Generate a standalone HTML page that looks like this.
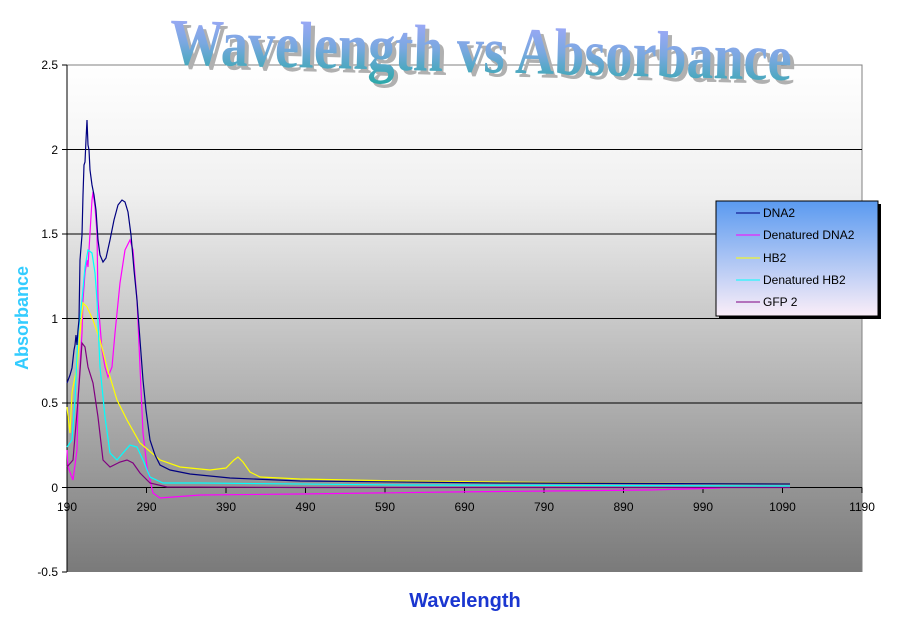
<!DOCTYPE html>
<html><head><style>body{margin:0;background:#fff}svg{display:block}</style></head><body>
<svg width="911" height="623" viewBox="0 0 911 623" xmlns="http://www.w3.org/2000/svg" font-family="Liberation Sans, Arial, sans-serif">
<defs>
<linearGradient id="bg" x1="0" y1="0" x2="0" y2="1"><stop offset="0" stop-color="#ffffff"/><stop offset="0.25" stop-color="#f0f0f0"/><stop offset="1" stop-color="#7a7a7a"/></linearGradient>
<linearGradient id="lg" x1="0" y1="0" x2="0" y2="1"><stop offset="0" stop-color="#5a9af0"/><stop offset="1" stop-color="#fbeef8"/></linearGradient>
<linearGradient id="tg" x1="0" y1="0" x2="0" y2="1"><stop offset="0" stop-color="#a8a8ff"/><stop offset="0.5" stop-color="#7aa8e0"/><stop offset="1" stop-color="#2aa8a8"/></linearGradient>
</defs>
<rect x="67" y="65" width="795" height="507" fill="url(#bg)"/>
<polyline points="67,65 862,65 862,572" fill="none" stroke="#808080"/>
<g stroke="#000" stroke-width="1">
<line x1="67" y1="149.5" x2="862" y2="149.5"/><line x1="67" y1="234" x2="862" y2="234"/><line x1="67" y1="318.5" x2="862" y2="318.5"/><line x1="67" y1="403" x2="862" y2="403"/><line x1="67" y1="487.5" x2="862" y2="487.5"/>
<line x1="67" y1="65" x2="67" y2="572"/>
</g>
<g stroke="#000"><line x1="62" y1="65" x2="67" y2="65"/><line x1="62" y1="149.5" x2="67" y2="149.5"/><line x1="62" y1="234" x2="67" y2="234"/><line x1="62" y1="318.5" x2="67" y2="318.5"/><line x1="62" y1="403" x2="67" y2="403"/><line x1="62" y1="487.5" x2="67" y2="487.5"/><line x1="62" y1="572" x2="67" y2="572"/>
<line x1="146.5" y1="487.5" x2="146.5" y2="493"/><line x1="226" y1="487.5" x2="226" y2="493"/><line x1="305.5" y1="487.5" x2="305.5" y2="493"/><line x1="385" y1="487.5" x2="385" y2="493"/><line x1="464.5" y1="487.5" x2="464.5" y2="493"/><line x1="544" y1="487.5" x2="544" y2="493"/><line x1="623.5" y1="487.5" x2="623.5" y2="493"/><line x1="703" y1="487.5" x2="703" y2="493"/><line x1="782.5" y1="487.5" x2="782.5" y2="493"/><line x1="862" y1="487.5" x2="862" y2="493"/></g>
<g font-size="12" text-anchor="end" fill="#000">
<text x="58" y="69">2.5</text><text x="58" y="154">2</text><text x="58" y="238">1.5</text><text x="58" y="323">1</text><text x="58" y="407">0.5</text><text x="58" y="492">0</text><text x="58" y="576">-0.5</text></g>
<g font-size="12" text-anchor="middle" fill="#000">
<text x="67" y="511">190</text><text x="146.5" y="511">290</text><text x="226" y="511">390</text><text x="305.5" y="511">490</text><text x="385" y="511">590</text><text x="464.5" y="511">690</text><text x="544" y="511">790</text><text x="623.5" y="511">890</text><text x="703" y="511">990</text><text x="782.5" y="511">1090</text><text x="862" y="511">1190</text></g>
<g fill="none" stroke-width="1.2">
<polyline stroke="#ff00ff" points="67,450 68,467 73,480 77,450 78,400 82,333 83,300 85,273 87,260 88,267 90,233 92,200 93,192 95,207 97,233 98,300 102,350 105,367 108,377 112,367 115,333 120,283 125,250 130,240 133,250 137,300 140,367 143,433 147,467 153,493 160,498 200,495 300,494 450,492 550,491 650,490 720,488"/>
<polyline stroke="#ffff00" points="67,407 70,433 72,393 73,387 77,367 80,333 83,303 87,307 93,320 100,340 107,367 117,400 127,420 140,443 160,460 180,467 210,470 226,468 234,460 238,457 243,462 250,472 260,477 300,479 400,481 500,482 600,483 790,484"/>
<polyline stroke="#00ffff" points="67,447 72,440 75,400 78,333 82,300 85,267 88,250 92,253 95,273 97,300 100,367 105,417 110,453 117,460 123,453 130,445 137,447 143,460 150,477 163,483 200,483 400,485 790,486"/>
<polyline stroke="#800080" points="67,467 73,460 78,400 82,343 85,347 88,367 93,383 98,417 103,460 110,467 120,462 127,460 133,463 140,473 150,483 167,487 300,487.5 790,487.5"/>
<polyline stroke="#000080" points="67,383 70,375 72,368 74,350 75,345 76,335 77,345 78,330 79,320 80,260 82,235 83,195 84,165 85,162 86,140 87,120 88,145 89,150 90,170 92,185 94,195 96,210 98,240 100,255 103,262 106,258 110,240 114,220 118,205 122,200 125,202 128,212 131,235 134,270 137,300 140,340 143,380 146,410 150,440 155,455 160,465 170,470 190,474 230,478 300,481 500,483 790,484"/>
</g>
<rect x="719" y="204" width="162" height="115" fill="#000"/>
<rect x="716" y="201" width="162" height="115" fill="url(#lg)" stroke="#000"/>
<g font-size="12" fill="#000">
<line x1="736" y1="213" x2="760" y2="213" stroke="#000080"/><text x="763" y="217">DNA2</text>
<line x1="736" y1="235" x2="760" y2="235" stroke="#ff00ff"/><text x="763" y="239">Denatured DNA2</text>
<line x1="736" y1="258" x2="760" y2="258" stroke="#ffff00"/><text x="763" y="262">HB2</text>
<line x1="736" y1="280" x2="760" y2="280" stroke="#00ffff"/><text x="763" y="284">Denatured HB2</text>
<line x1="736" y1="302" x2="760" y2="302" stroke="#800080"/><text x="763" y="306">GFP 2</text></g>
<text transform="translate(28,318) rotate(-90)" text-anchor="middle" font-size="18" font-weight="bold" fill="#33ccff">Absorbance</text>
<text x="465" y="607" text-anchor="middle" font-size="20" font-weight="bold" fill="#1a36d0">Wavelength</text>
<g font-family="Liberation Serif, serif" font-weight="bold" font-size="66">
<text x="170" y="72" textLength="622" lengthAdjust="spacingAndGlyphs" fill="#b0b0b0" transform="translate(4,4) rotate(1.5 480 45)">Wavelength vs Absorbance</text>
<text x="170" y="72" textLength="622" lengthAdjust="spacingAndGlyphs" fill="url(#tg)" transform="rotate(1.5 480 45)">Wavelength vs Absorbance</text>
</g>
</svg>
</body></html>
